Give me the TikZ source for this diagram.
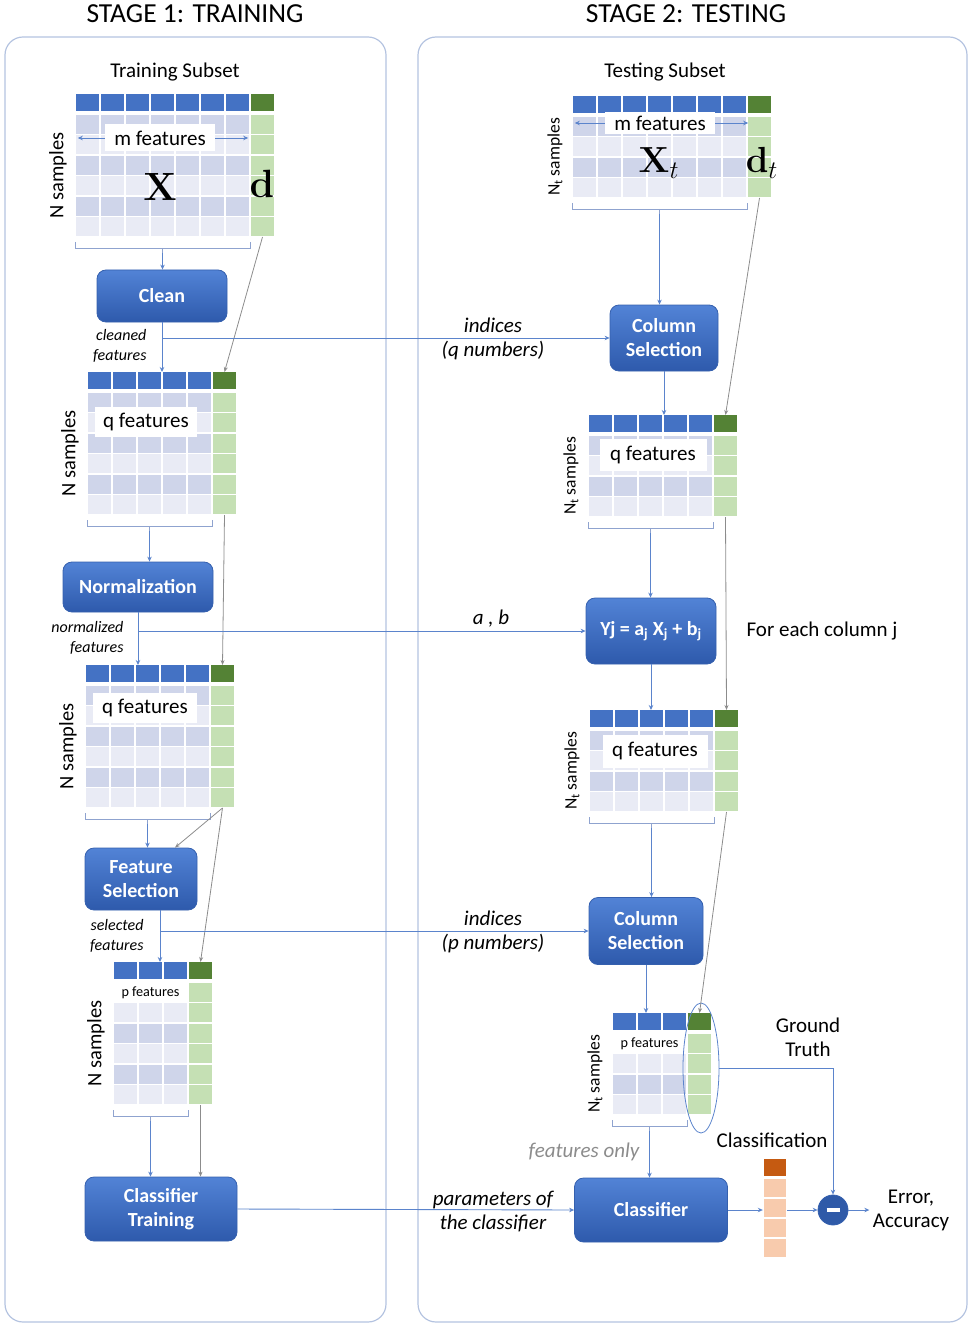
\documentclass[tikz,border=0pt]{standalone}
\usepackage[no-math]{fontspec}
\setmainfont{Carlito}
\usetikzlibrary{arrows.meta,shapes.geometric,calc}
\definecolor{hblue}{HTML}{4472C4}
\definecolor{hgreen}{HTML}{548235}
\definecolor{gcell}{HTML}{C5E0B4}
\definecolor{rowdark}{HTML}{CFD5EA}
\definecolor{rowlight}{HTML}{E9EBF5}
\definecolor{boxtop}{HTML}{5283D6}
\definecolor{boxbot}{HTML}{2E5AAC}
\definecolor{boxedge}{HTML}{3560AE}
\definecolor{lblue}{HTML}{5B84CC}
\definecolor{lgray}{HTML}{8C8C8C}
\definecolor{bracec}{HTML}{8FA3CF}
\definecolor{panelc}{HTML}{B4C3E0}
\definecolor{odark}{HTML}{C55A11}
\definecolor{olight}{HTML}{F8CBAD}
\definecolor{minusc}{HTML}{2F5AA8}
\newcommand{\fsz}[2]{\fontsize{#1}{#2}\selectfont}
\tikzset{
  proc/.style={draw=boxedge, line width=0.8pt, rounded corners=9pt, top color=boxtop, bottom color=boxbot, text=white, align=center, inner sep=0pt, font=\fsz{20}{24}\bfseries},
  arr/.style={draw=lblue, line width=0.9pt, -{Stealth[length=5pt,width=4.5pt]}},
  garr/.style={draw=lgray, line width=0.8pt, -{Stealth[length=5pt,width=4pt]}},
  brc/.style={draw=bracec, line width=0.9pt},
  panel/.style={draw=panelc, line width=1.2pt, rounded corners=18pt},
  lbox/.style={fill=white, inner sep=0pt, font=\fsz{21}{24}},
  itl/.style={font=\fsz{21}{24}\itshape, align=center},
  itls/.style={font=\fsz{16}{20}\itshape, align=right, anchor=east},
  txt/.style={font=\fsz{21}{24}, align=center},
  sidel/.style={rotate=90, font=\fsz{20.5}{22}},
  sidelt/.style={rotate=90, font=\fsz{17.5}{20}},
  bigm/.style={font=\fsz{20.74}{24}}
}
% name, x, y, ncols, nrows, side label style, side label
\newcommand{\dtab}[7]{%
\begin{scope}[shift={(#2,#3)}]
\pgfmathsetmacro\dtW{25*#4}
\pgfmathsetmacro\dtB{20+20.5*#5}
\foreach \i in {1,...,#4}{\fill[hblue] ({(\i-1)*25+0.8},0) rectangle ({\i*25-0.8},17);}
\fill[hgreen] ({\dtW+0.8},0) rectangle ({\dtW+24.2},17);
\foreach \r in {1,...,#5}{
  \pgfmathsetmacro\dtYa{20+(\r-1)*20.5+0.8}
  \pgfmathsetmacro\dtYb{20+\r*20.5-0.8}
  \ifodd\r \def\dtRC{rowdark}\else\def\dtRC{rowlight}\fi
  \foreach \i in {1,...,#4}{\fill[\dtRC] ({(\i-1)*25+0.8},\dtYa) rectangle ({\i*25-0.8},\dtYb);}
  \fill[gcell] ({\dtW+0.8},\dtYa) rectangle ({\dtW+24.2},\dtYb);
}
\coordinate (#1-top) at ({\dtW/2},0);
\coordinate (#1-gtop) at ({\dtW+12.5},0);
\coordinate (#1-gbot) at ({\dtW+12.5},\dtB);
\draw[brc] (0,\dtB+5) -- (0,\dtB+11) -- (\dtW,\dtB+11) -- (\dtW,\dtB+5);
\draw[brc] ({\dtW/2},\dtB+11) -- ({\dtW/2},\dtB+16);
\coordinate (#1-br) at ({\dtW/2},\dtB+16);
\node[#6] (#1-lab) at (-17,{(20+\dtB)/2}) {#7};
\end{scope}}
\begin{document}
\begin{tikzpicture}[x=1pt,y=-1pt]
\useasboundingbox (0,0) rectangle (972,1329);
% panels
\draw[panel] (5,37) rectangle (386,1322);
\draw[panel] (418,37) rectangle (967,1322);
\node[font=\fsz{27.5}{30}] (title1) at (195,14) {STAGE 1: TRAINING};
\node[font=\fsz{27.5}{30}] (title2) at (686,14) {STAGE 2: TESTING};
\node[font=\fsz{21}{24}] (sub1) at (175,72) {Training Subset};
\node[font=\fsz{21}{24}] (sub2) at (665,72) {Testing Subset};

% ---------- training tables
\dtab{t1}{75}{94}{7}{6}{sidel}{N samples}
\dtab{t2}{87}{372}{5}{6}{sidel}{N samples}
\dtab{t3}{85}{665}{5}{6}{sidel}{N samples}
\dtab{t4}{113}{962}{3}{6}{sidel}{N samples}
% ---------- testing tables
\dtab{u1}{572}{96}{7}{4}{sidelt}{N\textsubscript{t} samples}
\dtab{u2}{588}{415}{5}{4}{sidelt}{N\textsubscript{t} samples}
\dtab{u3}{589}{710}{5}{4}{sidelt}{N\textsubscript{t} samples}
\dtab{u4}{612}{1013}{3}{4}{sidelt}{N\textsubscript{t} samples}

% table labels
\node[lbox, minimum width=110pt, minimum height=27pt] (m1) at (160,138) {m features};
\draw[arr] (m1.west) -- ($(m1.west)+(-27,0)$);
\draw[arr] (m1.east) -- ($(m1.east)+(33,0)$);
\node[bigm] (bigx) at (160,187) {\scalebox{1.9}{$\mathbf{X}$}};
\node[bigm] (bigd) at (262,184) {\scalebox{1.9}{$\mathbf{d}$}};
\node[lbox, minimum width=110pt, minimum height=22pt] (m2) at (660,123) {m features};
\draw[arr] (m2.west) -- ($(m2.west)+(-30,0)$);
\draw[arr] (m2.east) -- ($(m2.east)+(33,0)$);
\node[bigm] (bigxt) at (659,163) {\scalebox{1.75}{$\mathbf{X}_t$}};
\node[bigm] (bigdt) at (762,163) {\scalebox{1.75}{$\mathbf{d}_t$}};
\node[lbox, minimum width=102pt, minimum height=30pt] (q2) at (146,422) {q features};
\node[lbox, minimum width=104pt, minimum height=30pt] (q3) at (145,708) {q features};
\node[lbox, minimum width=107pt, minimum height=32pt] (q5) at (653,455) {q features};
\node[lbox, minimum width=105pt, minimum height=33pt] (q6) at (655,751) {q features};
\node[fill=white, inner sep=0pt, minimum width=75pt, minimum height=20pt, font=\fsz{14.2}{16}] (p1) at (150.5,992.5) {p features};
\node[fill=white, inner sep=0pt, minimum width=75pt, minimum height=20pt, font=\fsz{14.2}{16}] (p2) at (649.5,1043.5) {p features};

% ---------- process boxes
\node[proc, minimum width=130pt, minimum height=52pt] (clean) at (162,296) {Clean};
\node[proc, minimum width=150pt, minimum height=50pt] (norm) at (138,587) {Normalization};
\node[proc, minimum width=112pt, minimum height=62pt] (fs) at (141,879) {Feature\\Selection};
\node[proc, minimum width=152pt, minimum height=64pt] (ctrain) at (161,1209) {Classifier\\Training};
\node[proc, minimum width=108pt, minimum height=66pt] (cs1) at (664,338) {Column\\Selection};
\node[proc, minimum width=130pt, minimum height=66pt] (form) at (651,631) {Yj = a\textsubscript{j} X\textsubscript{j} + b\textsubscript{j}};
\node[proc, minimum width=114pt, minimum height=67pt] (cs2) at (646,931) {Column\\Selection};
\node[proc, minimum width=153pt, minimum height=64pt] (clf) at (651,1210) {Classifier};

% classification bar
\node[inner sep=0pt, minimum width=24pt, minimum height=100pt] (cbar) at (775,1208) {};
\fill[odark] (763.8,1158.8) rectangle (786.2,1176.2);
\foreach \k in {0,1,2,3}{\fill[olight] (763.8,{1178.8+20*\k}) rectangle (786.2,{1197.2+20*\k});}
\node[circle, fill=minusc, draw=boxedge, line width=0.8pt, minimum size=30pt, inner sep=0pt] (minus) at (833,1210) {\textcolor{white}{\rule{13pt}{3.5pt}}};
\node[ellipse, draw=lblue, line width=0.8pt, minimum width=36pt, minimum height=130pt, inner sep=0pt] (gt) at (701,1068) {};

% ---------- labels
\node[itls] (lclean) at (150,346) {cleaned\\features};
\node[itls] (lnorm) at (127,638) {normalized\\features};
\node[itls] (lsel) at (147,936) {selected\\features};
\node[itl] (lidx1) at (493,339) {indices\\(q numbers)};
\node[itl] (lab) at (491,619) {a , b};
\node[itl] (lidx2) at (493,932) {indices\\(p numbers)};
\node[itl] (lpar) at (493,1212) {parameters of\\the classifier};
\node[itl, text=lgray] (lfo) at (584,1152) {features only};
\node[txt] (lfor) at (822,631) {For each column j};
\node[txt] (lgt) at (808,1037) {Ground\\Truth};
\node[txt] (lcls) at (772,1140) {Classification};
\node[txt] (err) at (911,1210) {Error,\\Accuracy};

% ---------- connectors: training
\draw[arr] (t1-br) -- (t1-br |- clean.north);
\draw[garr] (t1-gbot) -- (t2-gtop);
\draw[arr] (clean.south) -- (clean.south |- t2-top);
\draw[arr] (clean.south |- cs1.west) -- (cs1.west);
\draw[arr] (t2-br) -- (t2-br |- norm.north);
\draw[garr] (t2-gbot) -- (t3-gtop);
\draw[arr] (norm.south) -- (norm.south |- t3-top);
\draw[arr] (norm.south |- form.west) -- (form.west);
\draw[arr] (t3-br) -- (t3-br |- fs.north);
\coordinate (fsin) at ($(fs.north)+(34,0)$);
\draw[garr] (t3-gbot) -- (fsin);
\draw[garr] (t3-gbot) -- (t4-gtop);
\coordinate (fsout) at ($(fs.south)+(19,0)$);
\draw[arr] (fsout) -- (fsout |- t4-top);
\draw[arr] (fsout |- cs2.west) -- (cs2.west);
\draw[arr] (t4-br) -- (t4-br |- ctrain.north);
\draw[garr] (t4-gbot) -- (t4-gbot |- ctrain.north);
\draw[arr] (ctrain.east) -- (clf.west);
% ---------- connectors: testing
\draw[arr] (u1-br) -- (u1-br |- cs1.north);
\draw[garr] (u1-gbot) -- (u2-gtop);
\draw[arr] (cs1.south) -- (cs1.south |- u2-top);
\draw[arr] (u2-br) -- (u2-br |- form.north);
\draw[garr] (u2-gbot) -- (u3-gtop);
\draw[arr] (form.south) -- (form.south |- u3-top);
\draw[arr] (u3-br) -- (u3-br |- cs2.north);
\draw[garr] (u3-gbot) -- (u4-gtop);
\draw[arr] (cs2.south) -- (cs2.south |- u4-top);
\draw[arr] (u4-br) -- (u4-br |- clf.north);
\draw[arr] (clf.east) -- (clf.east -| cbar.west);
\draw[arr] (cbar.east |- minus.west) -- (minus.west);
\draw[arr] (gt.east) -- (gt.east -| minus.north) -- (minus.north);
\draw[arr] (minus.east) -- (err.west);
\end{tikzpicture}
\end{document}
